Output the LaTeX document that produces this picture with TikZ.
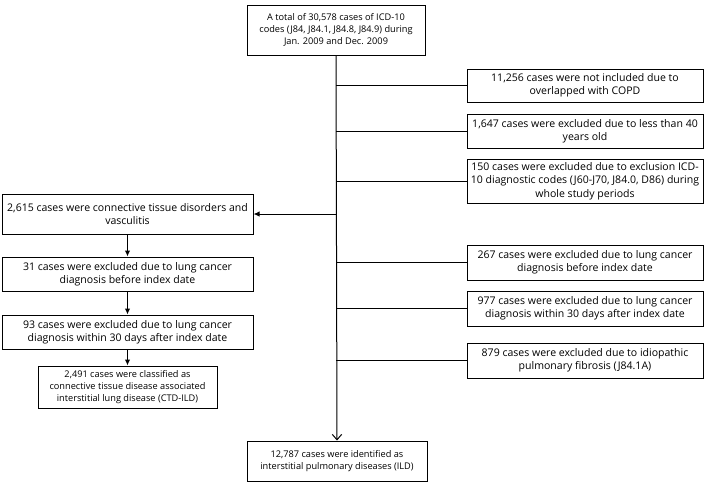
\documentclass[tikz,border=0pt]{standalone}
\usepackage{fontspec}
\setmainfont{Open Sans}
\usetikzlibrary{arrows.meta}

\tikzset{every picture/.style={line width=0.75pt}}
\tikzset{
  flowbox/.style={draw, rectangle, align=center, inner sep=1pt,
    font=\fontsize{7.9}{10}\selectfont},
  smallbox/.style={flowbox, font=\fontsize{6.9}{8.9}\selectfont},
  excl/.style={flowbox, minimum width=177pt, minimum height=26.25pt},
  leftbox/.style={flowbox, minimum width=188.25pt, minimum height=25.5pt},
  fillarrow/.style={-{Latex[length=4.5pt,width=4pt]}},
  openarrow/.style={-{Straight Barb[length=4pt,width=7pt]}}
}

\begin{document}
\begin{tikzpicture}[x=0.75pt,y=0.75pt,yscale=-1,xscale=1]
	\useasboundingbox (0,0) rectangle (709,483);
	
	%Shape: Rectangle [id:total] 
	\node [smallbox, minimum width=133.5pt, minimum height=37.5pt] (total) at (336,30) {A total of 30,578 cases of ICD-10\\codes (J84, J84.1, J84.8, J84.9) during\\Jan. 2009 and Dec. 2009};
	%Shape: Rectangle [id:ild] 
	\node [smallbox, minimum width=135pt, minimum height=30pt] (ild) at (337,461) {12,787 cases were identified as\\interstitial pulmonary diseases (ILD)};
	
	%Shape: Rectangle [id:copd] 
	\node [excl, minimum height=24.75pt] (copd) at (585,85.5) {11,256 cases were not included due to\\overlapped with COPD};
	%Shape: Rectangle [id:age] 
	\node [excl, minimum height=25.5pt] (age) at (585,131) {1,647 cases were excluded due to less than 40\\years old};
	%Shape: Rectangle [id:codes] 
	\node [excl, minimum height=33pt] (codes) at (585,181) {150 cases were excluded due to exclusion ICD-\\10 diagnostic codes (J60-J70, J84.0, D86) during\\whole study periods};
	%Shape: Rectangle [id:cancer] 
	\node [excl] (cancer) at (585,262.5) {267 cases were excluded due to lung cancer\\diagnosis before index date};
	%Shape: Rectangle [id:cancerthirty] 
	\node [excl] (cancerthirty) at (585,308.5) {977 cases were excluded due to lung cancer\\diagnosis within 30 days after index date};
	%Shape: Rectangle [id:ipf] 
	\node [excl] (ipf) at (585,360.5) {879 cases were excluded due to idiopathic\\pulmonary fibrosis (J84.1A)};
	
	%Shape: Rectangle [id:ctd] 
	\node [leftbox, minimum height=30pt] (ctd) at (127.5,214) {2,615 cases were connective tissue disorders and\\vasculitis};
	%Shape: Rectangle [id:ctdcancer] 
	\node [leftbox] (ctdcancer) at (127.5,274) {31 cases were excluded due to lung cancer\\diagnosis before index date};
	%Shape: Rectangle [id:ctdthirty] 
	\node [leftbox] (ctdthirty) at (127.5,332) {93 cases were excluded due to lung cancer\\diagnosis within 30 days after index date};
	%Shape: Rectangle [id:ctdild] 
	\node [smallbox, minimum width=134.25pt, minimum height=31.5pt] (ctdild) at (127.5,387) {2,491 cases were classified as\\connective tissue disease associated\\interstitial lung disease (CTD-ILD)};
	
	%Straight Lines [id:main] 
	\draw [openarrow] (total.south) -- (ild.north) ;
	%Straight Lines [id:excluded] 
	\foreach \b in {copd,age,codes,cancer,cancerthirty,ipf}
	  \draw (total.south |- \b.west) -- (\b.west) ;
	%Straight Lines [id:toctd] 
	\draw [fillarrow] (total.south |- ctd.east) -- (ctd.east) ;
	%Straight Lines [id:ctdchain] 
	\draw [fillarrow] (ctd.south) -- (ctdcancer.north) ;
	\draw [fillarrow] (ctdcancer.south) -- (ctdthirty.north) ;
	\draw [fillarrow] (ctdthirty.south) -- (ctdild.north) ;
	
\end{tikzpicture}
\end{document}
